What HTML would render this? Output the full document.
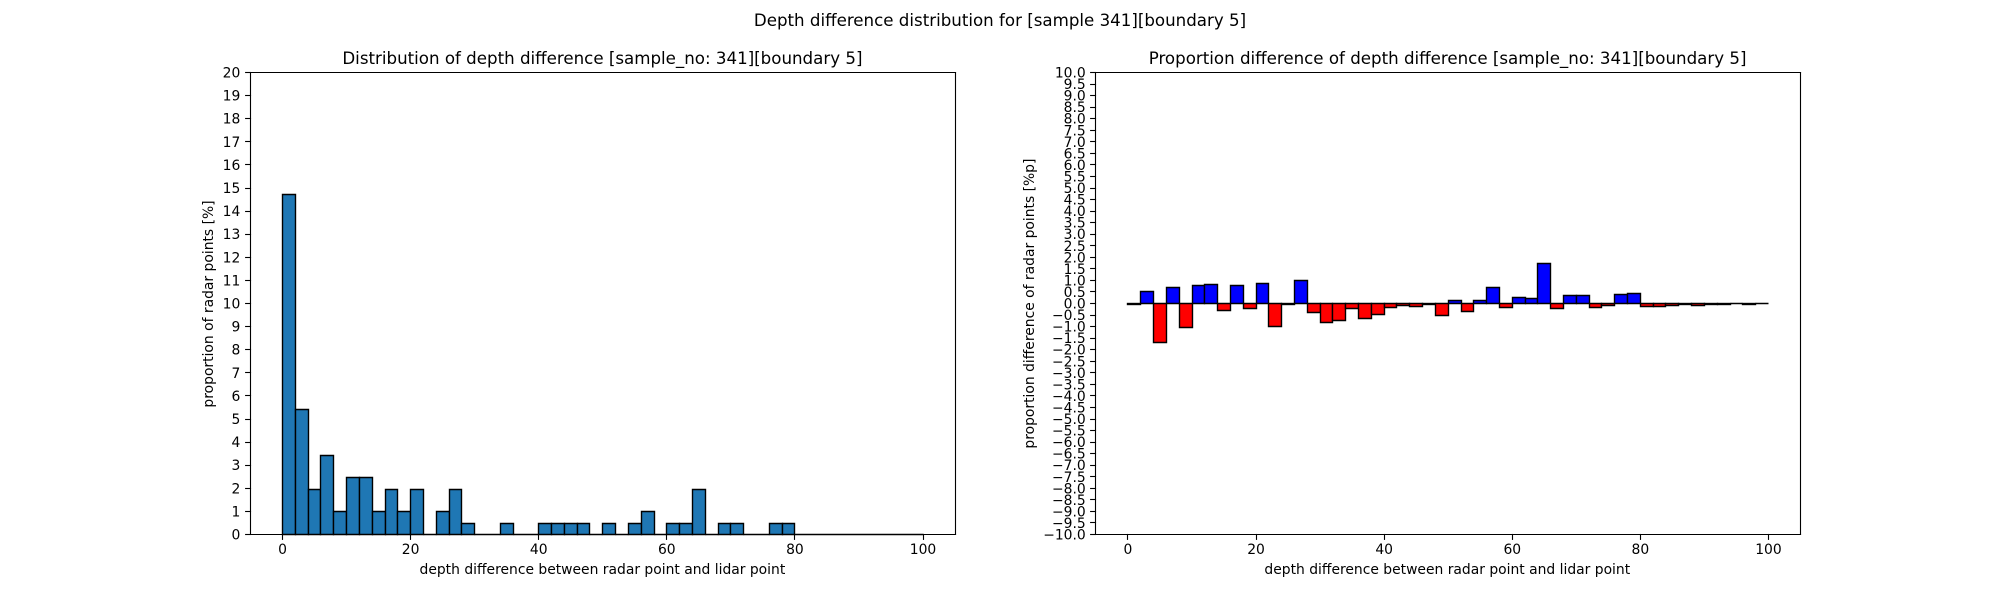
<!DOCTYPE html>
<html lang="en">
<head>
<meta charset="utf-8">
<title>Depth difference distribution</title>
<style>
html,body{margin:0;padding:0;background:#fff;width:2000px;height:600px;overflow:hidden}
svg{display:block}
text{font-family:"DejaVu Sans",sans-serif;fill:#000}
.tick{font-size:13.89px}
.label{font-size:13.89px}
.title{font-size:16.67px}
</style>
</head>
<body>
<svg id="figure" xmlns="http://www.w3.org/2000/svg" width="2000" height="600" viewBox="0 0 2000 600">
  <rect x="0" y="0" width="2000" height="600" fill="#ffffff"/>
  <text class="title" x="1000" y="26" text-anchor="middle">Depth difference distribution for [sample 341][boundary 5]</text>

  <g id="left-panel">
    <text class="title" x="602.4" y="64" text-anchor="middle">Distribution of depth difference [sample_no: 341][boundary 5]</text>
    <text class="label" x="602.4" y="574" text-anchor="middle">depth difference between radar point and lidar point</text>
    <text class="label" transform="translate(213,304) rotate(-90)" text-anchor="middle">proportion of radar points [%]</text>
    <g id="left-bars"></g>
    <g id="left-ticks"></g>
  </g>

  <g id="right-panel">
    <text class="title" x="1447.6" y="64" text-anchor="middle">Proportion difference of depth difference [sample_no: 341][boundary 5]</text>
    <text class="label" x="1447.3" y="574" text-anchor="middle">depth difference between radar point and lidar point</text>
    <text class="label" transform="translate(1034,303.6) rotate(-90)" text-anchor="middle">proportion difference of radar points [%p]</text>
    <g id="right-bars"></g>
    <g id="right-ticks"></g>
  </g>
</svg>

<script>
// Histogram bin edges start at 0 and advance by this width
var binWidth = 2;

// Left panel: proportion of radar points [%] per bin
var distributionValues = [
  14.7, 5.4, 1.95, 3.41, 0.98, 2.48, 2.48, 0.98, 1.95, 0.98,
  1.95, 0, 0.98, 1.95, 0.49, 0, 0, 0.49, 0, 0,
  0.49, 0.49, 0.49, 0.49, 0, 0.49, 0, 0.49, 0.98, 0,
  0.49, 0.49, 1.95, 0, 0.49, 0.49, 0, 0, 0.49, 0.49,
  0, 0, 0, 0, 0, 0, 0, 0, 0, 0
];

// Right panel: proportion difference [%p] per bin
var proportionValues = [
  -0.03, 0.5, -1.69, 0.68, -1.04, 0.76, 0.81, -0.32, 0.76, -0.23,
  0.85, -0.98, -0.03, 0.98, -0.4, -0.81, -0.75, -0.23, -0.66, -0.49,
  -0.19, -0.08, -0.14, -0.03, -0.53, 0.13, -0.36, 0.13, 0.69, -0.19,
  0.26, 0.22, 1.73, -0.22, 0.35, 0.35, -0.19, -0.1, 0.39, 0.43,
  -0.13, -0.13, -0.09, -0.03, -0.1, -0.04, -0.04, 0.01, -0.06, 0.01
];

var xTickValues = [0, 20, 40, 60, 80, 100];

var leftYTickValues = [0, 1, 2, 3, 4, 5, 6, 7, 8, 9, 10, 11, 12, 13, 14, 15, 16, 17, 18, 19, 20];

var rightYTickValues = [
  -10, -9.5, -9, -8.5, -8, -7.5, -7, -6.5, -6, -5.5, -5, -4.5, -4, -3.5, -3, -2.5, -2, -1.5, -1, -0.5,
  0, 0.5, 1, 1.5, 2, 2.5, 3, 3.5, 4, 4.5, 5, 5.5, 6, 6.5, 7, 7.5, 8, 8.5, 9, 9.5, 10
];

var SVG_NS = 'http://www.w3.org/2000/svg';
var PLOT_TOP = 72;
var PLOT_BOTTOM = 534;
var X_MIN = -5;
var X_MAX = 105;

function snap(v) {
  return Math.floor(v + 0.5) + 0.5;
}

function xScale(left, right) {
  return function (v) {
    return left + (v - X_MIN) / (X_MAX - X_MIN) * (right - left);
  };
}

function yScale(min, max) {
  return function (v) {
    return PLOT_BOTTOM - (v - min) / (max - min) * (PLOT_BOTTOM - PLOT_TOP);
  };
}

function formatLeftTick(v) {
  return String(v);
}

function formatRightTick(v) {
  return (v < 0 ? '\u2212' : '') + Math.abs(v).toFixed(1);
}

function drawBars(group, values, x, y, colorFor, prefix) {
  values.forEach(function (value, i) {
    var x0 = snap(x(i * binWidth));
    var x1 = snap(x((i + 1) * binWidth));
    var y0 = snap(y(0));
    var y1 = snap(y(value));
    var bar = document.createElementNS(SVG_NS, 'path');
    bar.setAttribute('d', 'M' + x0 + ' ' + y0 + 'H' + x1 + 'V' + y1 + 'H' + x0 + 'Z');
    bar.setAttribute('fill', colorFor(value));
    bar.setAttribute('stroke', '#000000');
    bar.setAttribute('stroke-width', '1.39');
    bar.setAttribute('stroke-linejoin', 'miter');
    
    
    group.appendChild(bar);
  });
}

function drawLine(group, x1, y1, x2, y2, name) {
  var line = document.createElementNS(SVG_NS, 'line');
  line.setAttribute('x1', x1);
  line.setAttribute('y1', y1);
  line.setAttribute('x2', x2);
  line.setAttribute('y2', y2);
  line.setAttribute('stroke', '#000000');
  line.setAttribute('stroke-width', '1.11');
  line.setAttribute('stroke-linecap', 'square');
  
  
  group.appendChild(line);
}

function drawLabel(group, px, py, anchor, content, name) {
  var label = document.createElementNS(SVG_NS, 'text');
  label.setAttribute('x', px);
  label.setAttribute('y', py);
  label.setAttribute('text-anchor', anchor);
  label.setAttribute('class', 'tick');
  
  
  label.textContent = content;
  group.appendChild(label);
}

function drawAxes(group, left, right, x, y, xTicks, yTicks, formatY, prefix) {
  var tickLen = 4.86;
  var l = snap(left);
  var r = snap(right);
  var t = snap(PLOT_TOP);
  var b = snap(PLOT_BOTTOM);
  xTicks.forEach(function (v) {
    var px = snap(x(v));
    drawLine(group, px, b, px, b + tickLen, prefix + '-x-tick-' + v);
    drawLabel(group, x(v) + 0.5, 554, 'middle', String(v), prefix + '-x-tick-label-' + v);
  });
  yTicks.forEach(function (v) {
    var py = snap(y(v));
    drawLine(group, l - tickLen, py, l, py, prefix + '-y-tick-' + v);
    drawLabel(group, left - 9.7, y(v) + 5.5, 'end', formatY(v), prefix + '-y-tick-label-' + v);
  });
  drawLine(group, l, t, l, b, prefix + '-left-spine');
  drawLine(group, r, t, r, b, prefix + '-right-spine');
  drawLine(group, l, t, r, t, prefix + '-top-spine');
  drawLine(group, l, b, r, b, prefix + '-bottom-spine');
}

var leftAxisStart = 250;
var leftAxisEnd = 954.55;
var rightAxisStart = 1095.45;
var rightAxisEnd = 1800;

var leftX = xScale(leftAxisStart, leftAxisEnd);
var leftY = yScale(0, 20);
var rightX = xScale(rightAxisStart, rightAxisEnd);
var rightY = yScale(-10, 10);

drawBars(document.getElementById('left-bars'), distributionValues, leftX, leftY, function () {
  return '#1f77b4';
}, 'distribution');

drawBars(document.getElementById('right-bars'), proportionValues, rightX, rightY, function (value) {
  return value >= 0 ? '#0000ff' : '#ff0000';
}, 'proportion');

drawAxes(document.getElementById('left-ticks'), leftAxisStart, leftAxisEnd, leftX, leftY, xTickValues, leftYTickValues, formatLeftTick, 'distribution');
drawAxes(document.getElementById('right-ticks'), rightAxisStart, rightAxisEnd, rightX, rightY, xTickValues, rightYTickValues, formatRightTick, 'proportion');
</script>
</body>
</html>
